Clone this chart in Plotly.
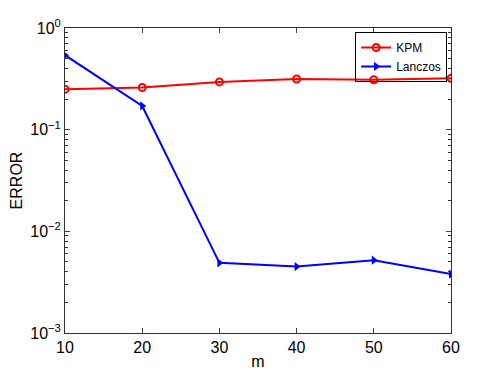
import plotly.graph_objects as go

m = [10, 20, 30, 40, 50, 60]
kpm = [0.25, 0.26, 0.295, 0.315, 0.31, 0.32]
lanczos = [0.54, 0.171, 0.0049, 0.0045, 0.0052, 0.0038]

ytick_vals = [1e-3, 1e-2, 1e-1, 1]
ytick_text = ["10<sup>−3</sup>", "10<sup>−2</sup>", "10<sup>−1</sup>", "10<sup>0</sup>"]
minor_vals = [k * 10 ** e for e in (-3, -2, -1) for k in range(2, 10)]

kpm_trace = go.Scatter(
    x=m, y=kpm, name='KPM', mode='lines+markers',
    line={'color': '#ff0000', 'width': 2},
    marker={'symbol': 'circle-open', 'size': 7, 'color': '#ff0000', 'line': {'width': 2}}
)

lanczos_trace = go.Scatter(
    x=m, y=lanczos, name='Lanczos', mode='lines+markers',
    line={'color': '#0000ff', 'width': 2},
    marker={'symbol': 'triangle-right', 'size': 8, 'color': '#0000ff'}
)

# page body has an 8px margin, so the figure is sized 8px smaller
font = 'Liberation Sans, Arial, sans-serif'
layout = go.Layout(
    width=490, height=367,
    margin=dict(l=57, r=47, t=20, b=42),
    paper_bgcolor='white', plot_bgcolor='white',
    font=dict(family=font, size=14, color='black'),
    showlegend=True,
    legend=dict(x=0.99, y=0.987, xanchor='right', yanchor='top',
                bordercolor='black', borderwidth=1, bgcolor='rgba(255,255,255,0)',
                font=dict(size=12), itemwidth=30),
    xaxis=dict(
        range=[10, 60], tickvals=m, ticks='inside', ticklen=5,
        showline=True, linecolor='#333', linewidth=1, mirror='ticks',
        showgrid=False, zeroline=False, automargin=False,
        title=dict(text='m', standoff=0, font=dict(size=16)),
        tickfont=dict(size=16)
    ),
    yaxis=dict(
        type='log', range=[-3, 0], tickvals=ytick_vals, ticktext=ytick_text,
        ticks='inside', ticklen=5,
        minor=dict(tickvals=minor_vals, ticks='inside', ticklen=3, tickcolor='#333'),
        showline=True, linecolor='#333', linewidth=1, mirror='ticks',
        showgrid=False, zeroline=False, automargin=False,
        title=dict(text='ERROR', standoff=6, font=dict(size=16)),
        tickfont=dict(size=16)
    )
)

fig = go.Figure(data=[kpm_trace, lanczos_trace], layout=layout)
fig.write_html("out.html")
